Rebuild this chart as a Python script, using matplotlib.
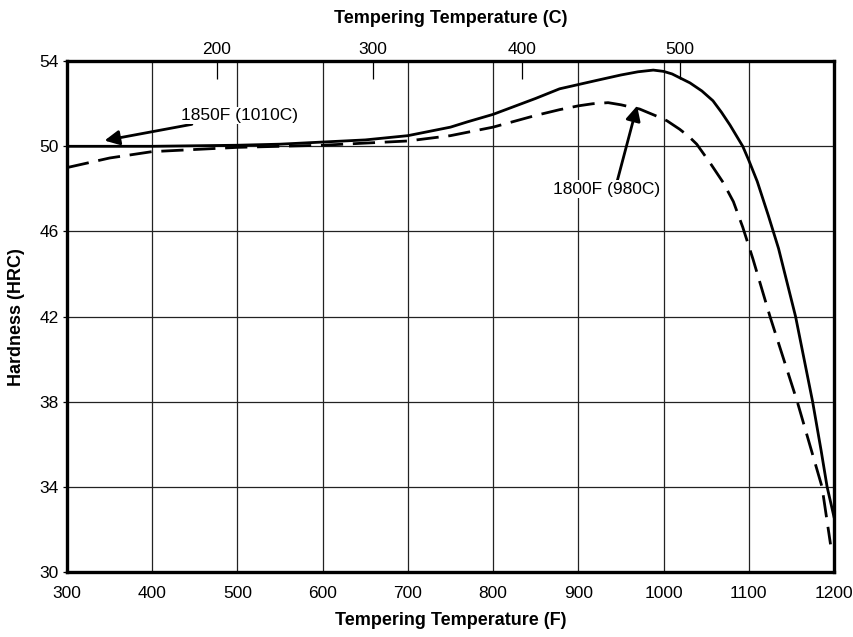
import matplotlib
matplotlib.use("Agg")
import matplotlib.pyplot as plt

plt.rcParams['font.family'] = ['Liberation Sans Narrow', 'Liberation Sans', 'DejaVu Sans']

# Hardness vs tempering temperature
temp_1850 = [300, 400, 500, 550, 600, 650, 700, 750, 770, 800, 850, 878, 900, 922, 950, 970, 988,
             1000, 1010, 1020, 1031, 1045, 1058, 1068, 1078, 1093, 1100, 1110, 1123, 1135, 1145, 1155,
             1165, 1175, 1185, 1192, 1200]
hrc_1850 = [50.0, 50.0, 50.05, 50.1, 50.2, 50.3, 50.5, 50.9, 51.15, 51.5, 52.25, 52.7, 52.9, 53.1, 53.35, 53.5, 53.58,
            53.52, 53.4, 53.2, 52.98, 52.6, 52.14, 51.6, 51.0, 50.0, 49.35, 48.35, 46.75, 45.2, 43.6, 42.0,
            40.0, 38.0, 35.7, 34.0, 32.6]

temp_1800 = [300, 350, 400, 500, 600, 700, 750, 800, 850, 878, 900, 917, 935, 950, 972,
             990, 1004, 1019, 1030, 1039, 1055, 1070, 1082, 1093, 1105, 1125, 1157, 1186, 1196]
hrc_1800 = [49.0, 49.45, 49.75, 49.95, 50.05, 50.25, 50.5, 50.9, 51.45, 51.72, 51.9, 52.0, 52.05, 51.95, 51.75,
            51.45, 51.2, 50.8, 50.45, 50.1, 49.2, 48.3, 47.4, 46.2, 44.7, 42.0, 38.0, 34.0, 31.3]

f_ticks = [300, 400, 500, 600, 700, 800, 900, 1000, 1100, 1200]
hrc_ticks = [30, 34, 38, 42, 46, 50, 54]
# celsius ticks as placed on the original top axis (F positions)
c_labels = ['200', '300', '400', '500']
c_pos_f = [476, 659, 834, 1019]

fig = plt.figure(figsize=(8.54, 6.37), dpi=100)
ax = fig.add_axes([0.0785, 0.102, 0.898, 0.802])

ax.set_xlim(300, 1200)
ax.set_ylim(30, 54)
ax.set_xticks(f_ticks)
ax.set_yticks(hrc_ticks)
ax.grid(True, color='#222222', linewidth=0.9)
ax.set_axisbelow(True)
ax.tick_params(axis='x', length=0, pad=10, labelsize=12.5)
ax.tick_params(axis='y', length=3, width=0.9, pad=3, labelsize=12.5)
for s in ax.spines.values():
    s.set_linewidth(2.4)

ax.plot(temp_1850, hrc_1850, color='black', linewidth=2.0, solid_joinstyle='round')
ax.plot(temp_1800, hrc_1800, color='black', linewidth=2.0, dashes=(8, 3.5))

ax.set_xlabel('Tempering Temperature (F)', fontsize=13, fontweight='bold', labelpad=8)
ax.set_ylabel('Hardness (HRC)', fontsize=13, fontweight='bold', labelpad=10)

top = ax.twiny()
top.set_xlim(ax.get_xlim())
top.set_xticks(c_pos_f)
top.set_xticklabels(c_labels)
top.tick_params(axis='x', direction='in', length=13, width=0.9, pad=3, labelsize=12.5)
top.set_xlabel('Tempering Temperature (C)', fontsize=13, fontweight='bold', labelpad=14)
for s in top.spines.values():
    s.set_visible(False)

box = dict(facecolor='white', edgecolor='none', pad=1)
ax.annotate('1850F (1010C)', xy=(344, 50.27), xytext=(434, 51.45),
            fontsize=12.5, va='center', ha='left', bbox=box,
            arrowprops=dict(arrowstyle='-|>', color='black', lw=2, mutation_scale=22,
                            shrinkA=0, shrinkB=0))
ax.annotate('1800F (980C)', xy=(969, 51.9), xytext=(870, 47.98),
            fontsize=12.5, va='center', ha='left', bbox=box,
            arrowprops=dict(arrowstyle='-|>', color='black', lw=2, mutation_scale=22,
                            shrinkA=0, shrinkB=0, relpos=(0.6, 1.0)))

fig.savefig('out.png', dpi=100)
